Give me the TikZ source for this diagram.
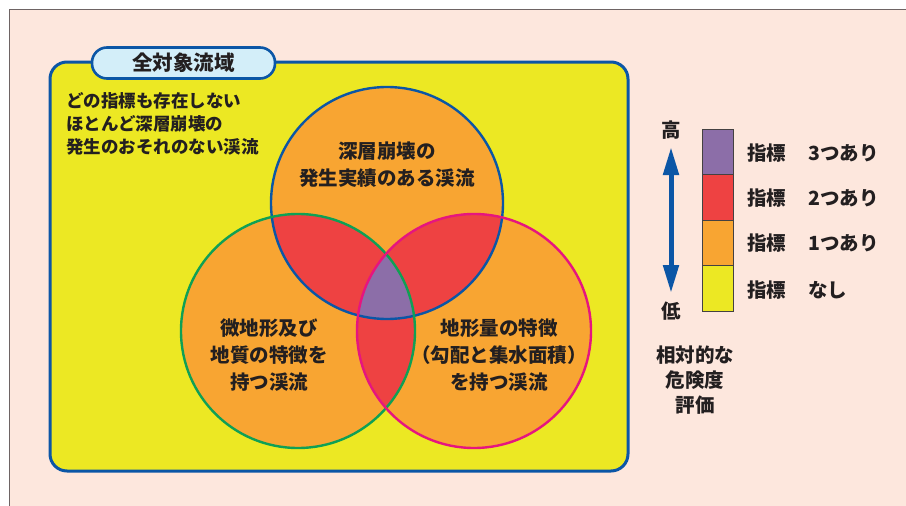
\documentclass[tikz,border=0pt]{standalone}
\usepackage{fontspec}
\setmainfont{Noto Sans CJK JP}
\usetikzlibrary{arrows.meta}
\definecolor{bgpink}{HTML}{FDE7DD}
\definecolor{framegray}{HTML}{6E6464}
\definecolor{vyellow}{HTML}{ECE823}
\definecolor{vorange}{HTML}{F8A532}
\definecolor{vred}{HTML}{EE4242}
\definecolor{vpurple}{HTML}{8C6EA8}
\definecolor{bblue}{HTML}{0B56A6}
\definecolor{bgreen}{HTML}{0FA055}
\definecolor{bmagenta}{HTML}{E6157F}
\definecolor{tabblue}{HTML}{D3EEF9}
\definecolor{txt}{HTML}{231F20}
\tikzset{
  ctext/.style={text=txt, align=center, font=\fontsize{19.5}{27}\selectfont\bfseries, inner sep=0pt},
  ltext/.style={text=txt, anchor=west, font=\fontsize{19.5}{24}\selectfont\bfseries, inner sep=0pt},
  legbox/.style={draw=txt!85, line width=0.9pt, minimum width=31pt, minimum height=45.5pt, inner sep=0pt},
  ring/.style={line width=2.4pt},
}
\begin{document}
\begin{tikzpicture}[x=1pt,y=-1pt]
\useasboundingbox (0,0) rectangle (906,506);
\fill[white] (0,0) rectangle (906,506);
\fill[bgpink] (9.5,9.5) rectangle (906,506);
\draw[framegray, line width=0.9pt] (9.5,506) -- (9.5,9.5);
\draw[framegray, line width=1.6pt] (9,9.5) -- (906,9.5);

% whole-area box
\node[draw=bblue, fill=vyellow, line width=3pt, rounded corners=17pt,
      minimum width=578pt, minimum height=409pt, inner sep=0pt] (area) at (339,266.5) {};

% circle centres
\coordinate (ctop) at (387,203);
\coordinate (cleft) at (298,331);
\coordinate (cright) at (474,331);

% fills
\fill[vorange] (ctop) circle[radius=116pt];
\fill[vorange] (cleft) circle[radius=117pt];
\fill[vorange] (cright) circle[radius=117pt];
\begin{scope}
  \clip (ctop) circle[radius=116pt];
  \fill[vred] (cleft) circle[radius=117pt];
  \fill[vred] (cright) circle[radius=117pt];
\end{scope}
\begin{scope}
  \clip (cleft) circle[radius=117pt];
  \fill[vred] (cright) circle[radius=117pt];
\end{scope}
\begin{scope}
  \clip (ctop) circle[radius=116pt];
  \clip (cleft) circle[radius=117pt];
  \fill[vpurple] (cright) circle[radius=117pt];
\end{scope}

% outlines
\node[circle, draw=bblue, ring, minimum size=232pt, inner sep=0pt] (topc) at (ctop) {};
\node[circle, draw=bgreen, ring, minimum size=234pt, inner sep=0pt] (leftc) at (cleft) {};
\node[circle, draw=bmagenta, ring, minimum size=234pt, inner sep=0pt] (rightc) at (cright) {};

% tab
\node[draw=bblue, fill=tabblue, line width=2.6pt, rounded corners=15pt,
      minimum width=183pt, minimum height=31pt, inner sep=0pt, text=txt,
      font=\fontsize{20.5}{20}\selectfont\bfseries] (tab) at (183.5,63) {全対象流域};

% texts
\node[text=txt, anchor=north west, align=left, inner sep=0pt,
      font=\fontsize{17.5}{23}\selectfont\bfseries] (none) at (66,92)
  {どの指標も存在しない\\ほとんど深層崩壊の\\発生のおそれのない渓流};
\node[ctext] (ttop) at (387,165) {深層崩壊の\\発生実績のある渓流};
\node[ctext] (tleft) at (269,355) {微地形及び\\地質の特徴を\\持つ渓流};
\node[ctext] (tright) at (499,355) {地形量の特徴\\（勾配と集水面積）\\を持つ渓流};

% legend
\node[legbox, fill=vpurple] (l3) at (717.5,152) {};
\node[legbox, fill=vred] (l2) at (717.5,197.5) {};
\node[legbox, fill=vorange] (l1) at (717.5,243) {};
\node[legbox, fill=vyellow] (l0) at (717.5,288.5) {};
\node[ltext] (t3) at (747,153) {指標\hspace{22pt}3つあり};
\node[ltext] (t2) at (747,198) {指標\hspace{22pt}2つあり};
\node[ltext] (t1) at (747,243) {指標\hspace{22pt}1つあり};
\node[ltext] (t0) at (747,290) {指標\hspace{22pt}なし};

\node[ctext] (hi) at (671,130) {高};
\node[ctext] (lo) at (671,311) {低};
\coordinate (atop) at (671,147);
\coordinate (abot) at (671,293);
\draw[bblue, line width=5pt, {Triangle[width=15pt,length=28pt]}-{Triangle[width=15pt,length=28pt]}] (atop) -- (abot);
\node[ctext, font=\fontsize{19.5}{25}\selectfont\bfseries] (eval) at (695,380) {相対的な\\危険度\\評価};
\end{tikzpicture}
\end{document}
